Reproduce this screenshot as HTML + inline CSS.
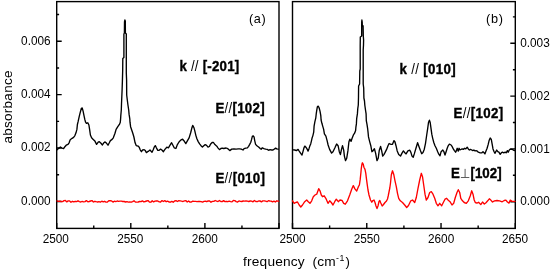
<!DOCTYPE html>
<html><head><meta charset="utf-8"><style>
html,body{margin:0;padding:0;background:#fff;width:550px;height:270px;overflow:hidden}
svg{display:block;will-change:transform}
text{white-space:pre}
</style></head><body>
<svg width="550" height="270" viewBox="0 0 550 270">
<g fill="none" stroke="#000" stroke-width="1.4">
<rect x="56.7" y="1.6" width="222.30" height="226.80"/>
<rect x="292.5" y="1.6" width="222.80" height="226.80"/>
<path d="M56.70,228.40V223.00 M93.75,228.40V225.40 M130.80,228.40V223.00 M167.85,228.40V225.40 M204.90,228.40V223.00 M241.95,228.40V225.40 M279.00,228.40V223.00 M292.50,228.40V223.00 M329.63,228.40V225.40 M366.77,228.40V223.00 M403.90,228.40V225.40 M441.03,228.40V223.00 M478.17,228.40V225.40 M515.30,228.40V223.00 M56.70,201.44H61.70 M56.70,174.74H59.10 M56.70,148.04H61.70 M56.70,121.34H59.10 M56.70,94.64H61.70 M56.70,67.94H59.10 M56.70,41.24H61.70 M56.70,14.54H59.10 M515.30,201.70H510.30 M515.30,175.30H512.90 M515.30,148.90H510.30 M515.30,122.50H512.90 M515.30,96.10H510.30 M515.30,69.70H512.90 M515.30,43.30H510.30 M515.30,16.90H512.90"/>
</g>
<g fill="none" stroke-width="1.35" stroke-linejoin="round" stroke-linecap="round">
<path stroke="#ff0000" d="M57,200.9 58.4,201.4 59.8,201.1 61.2,201.5 62.6,201.6 64,200.6 65.4,200.5 66.8,201.9 68.2,200.9 69.6,200.9 71,202.2 72.4,201.3 73.8,201.9 75.2,201.3 76.6,201.6 78,200.8 79.4,201.6 80.8,202 82.2,201.4 83.6,201.8 85,201.6 86.4,200.6 87.8,201.8 89.2,201.5 90.6,201 92,200.6 93.4,202 94.8,201.3 96.2,201.7 97.6,202 99,201.7 100.4,202.1 101.8,201.2 103.2,201.9 104.6,201.3 106,202.1 107.4,202 108.8,200.7 110.2,200.7 111.6,200.9 113,202.1 114.4,201.2 115.8,201.6 117.2,201 118.6,201.4 120,201.2 121.4,201.1 122.8,201.5 124.2,201.5 125.6,202 127,201.7 128.4,202.1 129.8,202 131.2,202.2 132.6,201.6 134,200.8 135.4,202 136.8,202.1 138.2,202 139.6,201.5 141,201.7 142.4,200.9 143.8,201.9 145.2,201.5 146.6,201 148,200.6 149.4,202 150.8,202.2 152.2,200.7 153.6,201.9 155,201.2 156.4,200.8 157.8,201 159.2,201.8 160.6,202 162,200.6 163.4,201.5 164.8,200.6 166.2,201.7 167.6,201.1 169,202 170.4,202.2 171.8,201.4 173.2,202.2 174.6,201 176,200.6 177.4,201.5 178.8,200.6 180.2,200.8 181.6,201.2 183,201.5 184.4,200.8 185.8,200.6 187.2,202 188.6,201 190,202.1 191.4,202 192.8,201.1 194.2,201.3 195.6,201.4 197,201.6 198.4,201.5 199.8,201.5 201.2,201.6 202.6,202.1 204,201.4 205.4,201.2 206.8,201.7 208.2,200.9 209.6,201 211,202.2 212.4,201.4 213.8,201.4 215.2,200.5 216.6,201.2 218,201.5 219.4,200.5 220.8,201.5 222.2,201.6 223.6,200.6 225,201.6 226.4,201.3 227.8,201.7 229.2,201.1 230.6,201.7 232,201.8 233.4,200.5 234.8,200.6 236.2,201.6 237.6,202.1 239,200.9 240.4,201.3 241.8,201.5 243.2,201 244.6,201.1 246,201 247.4,201.1 248.8,201.5 250.2,201 251.6,201.1 253,201.8 254.4,200.5 255.8,201.5 257.2,201.7 258.6,201 260,200.9 261.4,201.9 262.8,200.9 264.2,200.8 265.6,201.2 267,201.7 268.4,200.7 269.8,201 271.2,201.1 272.6,201.9 274,201.2 275.4,202 276.8,200.8 278.2,201.1 278.6,201.3"/>
<path stroke="#ff0000" d="M292.5,200.8 294.2,203.3 295.8,202.5 297.5,202 299.2,205 300.8,207 302.5,205 304.7,201.7 306.7,200 308.3,201.7 310,203.3 311.7,200.8 313.3,196.7 315,195 316.7,194.2 318.7,188.7 320,190.8 321.3,195 322.5,196.7 324.2,195.8 325.8,198.3 328,203.3 329.7,200.8 331.3,202.5 333,205 334.7,201.7 336.3,199.2 338.3,201.7 340,200 342,200.3 343.7,203.3 345.3,204.2 347.5,200.8 349.7,195 351.7,189.2 353.3,185.6 354.9,188.9 356.7,191.1 358.4,186.7 359.4,185 360.2,179.4 360.9,172.8 361.3,168.3 362,163.9 362.4,162.8 363.3,164.4 363.9,167.2 365,169.4 365.8,173.3 366.4,178.3 367.2,184.4 368,190 369,195 370.5,200 371.8,202.2 373,200.5 374,200 375,202.5 376,206 377,208.5 378,206 379,201.5 379.8,200.5 380.8,203 382.2,206 383.5,204.5 385,202.5 386.5,201 387.5,199 388.2,196 389,192 389.8,188 390.5,183 391.3,175 392.5,170.8 393.7,174.2 395,180.8 396.3,186.7 397.5,193.3 398.7,198.3 400.3,200.8 402.5,202.5 404.7,205 406.7,207.5 408.5,205.5 410.8,200.8 412.5,200 414.7,202.5 416.3,197.5 418,188.3 419.7,180 421.3,173.3 422.5,176.7 423.7,185 425,194.2 426.3,200 428,197.5 429.7,192.5 431.3,191.7 433,194.2 434.7,198.3 436.3,203.3 438,205.8 439.7,203.3 441.7,205.8 443.3,202.5 445,199.2 446.7,198.3 448.3,200.3 450,201.7 452,205 453.7,203.3 455.3,197.5 457,192.5 458.3,189.7 459.7,192.5 460.8,198.3 462.5,200.8 464.2,202.5 466.3,203.3 468.3,200.8 470.3,195.8 471.7,190.8 473,194.2 474.2,200 475.3,202.5 476.9,203.1 478.6,202.3 480.8,204.6 482.5,202 484.3,204 486,202.7 487.7,200.8 489.3,198.8 490.8,200.1 492.5,202 494.5,200.8 497,200.5 499.6,200.8 502.2,201.8 504.2,200.5 505.9,200.1 507.4,202 509,203.1 510.3,200.1 512,201.4 515,201.4"/>
<path stroke="#000" d="M57.1,149.7 58.2,148.8 60.4,147 62.1,148.1 63.6,148.6 64.9,146.7 66.2,145.2 68,144.4 69.1,142.8 70.2,139.7 72.1,138.3 73.6,137.4 74.9,135.6 76,132.8 76.9,129.4 77.4,124.5 78.1,121.7 79.2,116.7 80.3,112.2 81.4,108.3 82.2,108 83.1,111.1 84,115.6 84.8,119.4 85.6,122.2 86.4,123.3 87.8,122.8 88.9,125 89.6,129.4 90.4,135 91.6,137.8 93.2,139.4 94.9,141.1 96.6,144.4 98.2,142.2 99.3,141.7 101,143.3 102.4,145 103.8,142.8 105.1,141.9 106.6,143.3 108,145.2 109.3,142.8 110.4,140.6 112.1,139.4 113.3,137.8 115,133.3 116.1,129.4 117.8,126.7 119.4,124.4 120.3,122.2 120.6,118.9 120.8,115.6 121.1,112.2 121.3,110 121.5,104 121.8,97 122.1,90 122.4,81 122.7,70 122.8,58.5 123.9,57.5 123.9,34 124.4,33 124.5,22 124.9,20 125.3,21 125.4,33 126.3,34 126.3,58 126.3,73 126.6,80 126.7,95 127.3,100 127.8,104 128.7,110 129.1,114.4 129.8,118.9 130,122.2 130.6,126.7 131.7,130 132.8,133.3 133.9,137 135.1,142.8 136.2,145.6 138.1,146.1 139.2,147.2 140.3,150 141.4,151.7 142.6,150 144.2,149.7 145.3,150.6 146.4,152.6 147.6,151.7 148.7,151.1 150,150 150.9,151.1 152,152.2 153.1,150 154.2,147.2 155.3,145.6 156.4,147.8 157.8,150.3 159.2,150.3 160.6,149.1 161.9,150 163.4,151.7 165.1,149.1 166.8,147.2 168.4,147.8 169.9,145.3 171.6,142.7 172.9,145.3 174.2,147.8 175.9,148.5 177.4,144.6 179,142 180.7,140.1 182.6,139.2 183.9,140.7 185.8,143.6 187.5,140.7 189.1,137.9 190.6,133 191.9,127.8 192.7,125.4 194,127.8 194.8,130.8 195.9,135.6 196.9,138.8 198.2,141.6 199.6,143.9 201,145.7 202.4,147.1 203.8,145.7 205.2,144.6 206.6,145.3 208,147.1 209.4,146.5 210.7,143.9 212.1,142.5 213.5,142.5 214.9,144.6 216.8,146.2 218.1,148.1 219.5,149.6 220.9,148.5 222.3,148.1 223.7,148.5 226.1,148 227.8,148.7 229.8,150.6 231.7,149.1 233.9,148.9 236.1,149.1 238.3,148.9 239.7,148.9 241.3,149.2 243,150 244.1,148.6 245.8,148.1 247.4,147.8 248.6,146.3 249.7,144.4 250.8,142.2 251.6,139.4 252.4,136.1 253.3,135.9 254.1,137.2 254.7,140.6 255.6,144.4 256.9,145.8 258.6,147 260.2,148.6 261.3,149.2 262.2,147.8 263.9,148.6 265.6,149.2 267.2,149.4 268.6,150.3 270,149.7 271.7,150 273,150 274.1,149.2 275.6,148.1 276.7,148.9 278.3,149.2"/>
<path stroke="#000" d="M293.1,149.8 294.8,150 296.4,150.6 298.1,149.4 299.2,151.1 300.7,153.3 302,155 303.1,151.1 304,147.8 304.8,146.1 305.9,147.2 307,148.9 308.1,151.1 308.9,148.9 309.8,146.1 310.7,143.9 311.4,141.1 312,138.3 312.9,135.6 313.7,132.2 314.1,126.1 314.9,121.7 315.8,117.8 316.3,113.3 316.9,109.4 317.4,106.7 318.2,106.1 319.1,107.8 320,111.1 320.8,115.6 321.1,120 321.9,123.3 322.7,126.1 323.6,129.1 324.4,133.9 325.9,136.1 327.1,140.6 328.1,145 329.6,149.4 331.6,153.1 333,151.7 334.8,148 336.6,144 338.1,145.7 339.3,151.7 340.4,154.6 341.5,149.4 342.5,145.7 343.7,150.2 344.4,156.1 345.5,160.6 346.7,158.3 347.9,150.9 348.9,142 349.8,139.1 351.1,141.3 352.1,138.3 353.6,134.6 354.6,133.2 355.6,130.6 355.9,127.2 356.4,123.9 356.7,118.3 357.4,113.9 357.8,108.3 358.3,105 358.5,97 358.6,86 359.6,84 359.8,71 360.2,69 360.2,46 360.3,37 361.7,36 361.7,22 361.9,20 362.2,22 362.3,25 363.1,26 363.3,36 363.6,40 363.5,45 363.2,50 363.2,60 363.2,84 363.7,88 363.9,98 364.5,101 364.8,105 365.5,110 366.1,113.9 366.3,120.6 367,124.4 367.6,128.3 368.1,132.8 368.5,136.9 369.6,141.3 370.8,145.7 371.9,151.7 372.9,150.9 374.4,148.7 375.6,153.1 377,160.6 378.2,158.3 379.3,150.2 380.6,146.5 381.7,150.9 382.7,156.1 383.9,154.6 385.1,152.4 386.6,149.4 388,145.7 389.1,143.5 391,144.3 392.5,144.3 394,140.6 395,142 396,145.7 397.2,150.9 398.7,154.6 400.5,156.1 402,153.1 403.4,150.9 404.6,152.4 406.1,153.9 407.9,150.9 409.8,150.2 410.9,152.4 412,156.1 413.2,157.3 414.3,153.9 416.1,147.8 417.6,142.7 419.3,147.5 420.5,150.8 421.7,153.7 423,152.5 424.3,149.2 425.5,143.3 426.7,135 427.7,128.3 428.5,122.5 429.4,120.2 430.2,122.5 431,128.3 431.8,134.2 432.7,138.3 433.8,142.5 435,145.8 436.3,148.3 437.7,151.7 438.8,154.2 440,155.8 441.1,151.7 442.8,150 443.9,151.7 445,155 446.1,151.7 447.2,148.3 448.3,145.6 449.4,144.2 451.1,145 452.2,146.7 453.3,148.9 454.4,150.6 455.6,152.2 456.4,150.6 457.2,148.3 457.8,150 458.3,151.1 459.1,148.3 460,149.8 461.1,149.4 462.2,148.9 463.3,149.4 464.7,148.3 465.8,148.9 467.2,147.2 468.3,148.9 469.4,150 470.6,149.4 471.7,150 472.8,150.6 473.9,150 475,150.9 476.1,150.6 477.2,151.1 478.3,152.2 480.2,152.8 481.9,152.8 483,151.7 484.1,152.8 484.9,153.9 486,151.1 487.1,148.3 488.2,144.4 489.1,140.6 490.2,138 491.3,139.4 492.2,144.4 493,148.9 494.1,151.7 494.9,153.3 495.8,151.7 496.7,150 497.8,151.7 498.9,152.2 500.2,154.4 501.3,152.8 502.4,152.2 503.8,152.8 505.2,152.2 506.3,152.8 507.4,150.6 508.2,152.2 509.3,150 510.4,149.1 511.9,149.4 513.3,150 514.8,150.6"/>
</g>
<g fill="#000" font-family="Liberation Sans, sans-serif">
<text transform="translate(50.60,44.50) scale(1.0,1.05)" text-anchor="end" font-size="11.8" font-weight="normal" >0.006</text>
<text transform="translate(50.60,97.96) scale(1.0,1.05)" text-anchor="end" font-size="11.8" font-weight="normal" >0.004</text>
<text transform="translate(50.60,151.35) scale(1.0,1.05)" text-anchor="end" font-size="11.8" font-weight="normal" >0.002</text>
<text transform="translate(50.60,205.10) scale(1.0,1.05)" text-anchor="end" font-size="11.8" font-weight="normal" >0.000</text>
<text transform="translate(520.20,205.10) scale(1.0,1.05)" text-anchor="start" font-size="11.8" font-weight="normal" >0.000</text>
<text transform="translate(520.20,152.80) scale(1.0,1.05)" text-anchor="start" font-size="11.8" font-weight="normal" >0.001</text>
<text transform="translate(520.20,100.10) scale(1.0,1.05)" text-anchor="start" font-size="11.8" font-weight="normal" >0.002</text>
<text transform="translate(520.20,47.30) scale(1.0,1.05)" text-anchor="start" font-size="11.8" font-weight="normal" >0.003</text>
<text transform="translate(55.80,242.90) scale(1.0,1.05)" text-anchor="middle" font-size="11.8" font-weight="normal" >2500</text>
<text transform="translate(130.30,242.90) scale(1.0,1.05)" text-anchor="middle" font-size="11.8" font-weight="normal" >2550</text>
<text transform="translate(204.80,242.90) scale(1.0,1.05)" text-anchor="middle" font-size="11.8" font-weight="normal" >2600</text>
<text transform="translate(292.50,242.90) scale(1.0,1.05)" text-anchor="middle" font-size="11.8" font-weight="normal" >2500</text>
<text transform="translate(366.80,242.90) scale(1.0,1.05)" text-anchor="middle" font-size="11.8" font-weight="normal" >2550</text>
<text transform="translate(441.10,242.90) scale(1.0,1.05)" text-anchor="middle" font-size="11.8" font-weight="normal" >2600</text>
<text transform="translate(515.00,242.90) scale(1.0,1.05)" text-anchor="middle" font-size="11.8" font-weight="normal" >2650</text>
<text transform="translate(249.10,22.70) scale(1.0,1.0)" text-anchor="start" font-size="12.7" font-weight="normal" letter-spacing="0.53">(a)</text>
<text transform="translate(485.90,22.70) scale(1.0,1.0)" text-anchor="start" font-size="12.7" font-weight="normal" letter-spacing="0.83">(b)</text>
<text transform="translate(179.40,70.60) scale(1.0,1.07)" text-anchor="start" font-size="13.3" font-weight="bold" stroke="#000" stroke-width="0.35" textLength="59.9" lengthAdjust="spacing">k <tspan font-weight="normal" stroke="none">//</tspan> [-201]</text>
<text transform="translate(215.40,112.70) scale(1.0,1.07)" text-anchor="start" font-size="13.3" font-weight="bold" stroke="#000" stroke-width="0.35" textLength="49.2" lengthAdjust="spacing">E<tspan font-weight="normal" stroke="none">//</tspan>[102]</text>
<text transform="translate(215.40,182.90) scale(1.0,1.07)" text-anchor="start" font-size="13.3" font-weight="bold" stroke="#000" stroke-width="0.35" textLength="49.6" lengthAdjust="spacing">E<tspan font-weight="normal" stroke="none">//</tspan>[010]</text>
<text transform="translate(399.50,73.70) scale(1.0,1.07)" text-anchor="start" font-size="13.3" font-weight="bold" stroke="#000" stroke-width="0.35" textLength="56.1" lengthAdjust="spacing">k <tspan font-weight="normal" stroke="none">//</tspan> [010]</text>
<text transform="translate(453.60,117.80) scale(1.0,1.07)" text-anchor="start" font-size="13.3" font-weight="bold" stroke="#000" stroke-width="0.35" textLength="49.6" lengthAdjust="spacing">E<tspan font-weight="normal" stroke="none">//</tspan>[102]</text>
<text transform="translate(451.00,178.30) scale(1.0,1.07)" text-anchor="start" font-size="13.3" font-weight="bold" stroke="#000" stroke-width="0.35" >E</text>
<text transform="translate(470.55,178.30) scale(1.0,1.07)" text-anchor="start" font-size="13.3" font-weight="bold" stroke="#000" stroke-width="0.35" >[102]</text>
<path d="M465.1,168.9V177.6M460.9,177.5H469.3" stroke="#555" stroke-width="0.95" fill="none"/>
<text transform="translate(243.10,266.20) scale(1.0,1.0)" text-anchor="start" font-size="13.7" font-weight="normal" textLength="61.5" lengthAdjust="spacing">frequency</text>
<text transform="translate(312.55,266.20) scale(1.0,1.0)" text-anchor="start" font-size="13.7" font-weight="normal" letter-spacing="0.2">(cm</text>
<text transform="translate(336.10,261.00) scale(1.0,1.0)" text-anchor="start" font-size="8.8" font-weight="normal" letter-spacing="0.5">-1</text>
<text transform="translate(345.60,265.80) scale(1.0,1.0)" text-anchor="start" font-size="13.2" font-weight="normal" >)</text>
<text transform="translate(11.6,107) rotate(-90)" text-anchor="middle" font-size="13.5" textLength="72.9" lengthAdjust="spacing">absorbance</text>
</g>
</svg>
</body></html>
